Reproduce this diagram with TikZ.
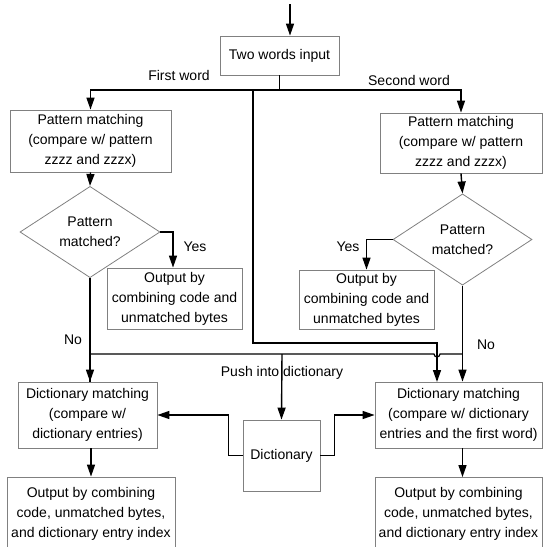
\documentclass[tikz,border=0pt]{standalone}
\usepackage{fontspec}
\setmainfont{Liberation Sans}
\usetikzlibrary{arrows.meta,shapes.geometric}
\begin{document}
\begin{tikzpicture}[x=1pt,y=-1pt,
  font=\fontsize{14}{20}\selectfont,
  box/.style={draw=black!50,line width=0.8pt,rectangle,align=center,inner sep=0pt},
  decide/.style={draw=black!50,line width=0.8pt,diamond,align=center,inner sep=0pt},
  flow/.style={draw=black,line width=1.4pt},
  arr/.style={flow,-{Triangle[length=12pt,width=8pt]}},
  lbl/.style={inner sep=0pt}]
\useasboundingbox (0,0) rectangle (543,547);
\begin{scope}
\clip (0,0) rectangle (543,547);

% boxes
\node[box,minimum width=119,minimum height=39] (input) at (279.5,55.5) {Two words input};
\node[box,minimum width=161,minimum height=62] (pL) at (90.5,141) {Pattern matching\\(compare w/ pattern\\zzzz and zzzx)};
\node[box,minimum width=162,minimum height=60] (pR) at (461,143) {Pattern matching\\(compare w/ pattern\\zzzz and zzzx)};
\node[decide,minimum width=140,minimum height=69] (dL) at (90,232) {Pattern\\matched?};
\node[decide,minimum width=139,minimum height=69] (dR) at (462.5,239.5) {Pattern\\matched?};
\node[box,minimum width=135,minimum height=61] (oL) at (174.5,298.5) {Output by\\combining code and\\unmatched bytes};
\node[box,minimum width=135,minimum height=59] (oR) at (366.5,299.5) {Output by\\combining code and\\unmatched bytes};
\node[box,minimum width=139,minimum height=66] (mL) at (87.5,415) {Dictionary matching\\(compare w/\\dictionary entries)};
\node[box,minimum width=167,minimum height=66] (mR) at (458.5,415) {Dictionary matching\\(compare w/ dictionary\\entries and the first word)};
\node[box,minimum width=77,minimum height=71] (dict) at (281.5,455.5) {Dictionary};
\node[box,minimum width=168,minimum height=73] (qL) at (91,513.5) {Output by combining\\code, unmatched bytes,\\and dictionary entry index};
\node[box,minimum width=167,minimum height=73] (qR) at (458.5,514) {Output by combining\\code, unmatched bytes,\\and dictionary entry index};

% labels
\node[lbl] (lfirst) at (179,75) {First word};
\node[lbl] (lsecond) at (409,80) {Second word};
\node[lbl] (lyesL) at (195,247) {Yes};
\node[lbl] (lyesR) at (348,247) {Yes};
\node[lbl] (lnoL) at (73,340) {No};
\node[lbl] (lnoR) at (486,345) {No};
\node[lbl] (lpush) at (282,373) {Push into dictionary};

% junction points
\coordinate (src) at (290,4);
\coordinate (bus) at (279.5,90);
\coordinate (midtop) at (253,90);
\coordinate (midturn) at (253,343);
\coordinate (midend) at (437,382);
\coordinate (noL) at (91,354);
\coordinate (push) at (282,354);

% input and the two words
\draw[arr] (src) -- (src |- input.north);
\draw[arr] (input.south) -- (bus) -| (pL.north);
\draw[arr] (bus) -| (pR.north);

% pattern matching paths
\draw[arr] (pL.south) -- (dL.north);
\draw[arr] (pR.south) -- (dR.north);
\draw[arr] (dL.east) -| ([xshift=-1.5pt]oL.north);
\draw[arr] (dR.west) -| (oR.north);

% first word passed straight to the second dictionary matcher
\draw[arr] (midtop) -- (midturn) -| (midend);

% the two "No" paths joined, hopping over the first-word line
\draw[flow] (dL.south) -- (dL.south |- mL.north);
\draw[flow,line width=1.2pt] (noL) -- (434,354) arc[start angle=180,end angle=0,radius=3] -- (dR.south |- noL);
\draw[arr] (dL.south |- noL) -- (dL.south |- mL.north);
\draw[arr] (dR.south) -- (dR.south |- mR.north);
\draw[arr] (push) -- (dict.north);

% dictionary lookups
\draw[arr] (dict.west) -- ++(-14,0) |- (mL.east);
\draw[arr] (dict.east) -- ++(14,0) |- (mR.west);

% final outputs
\draw[arr] (qL.north |- mL.south) -- (qL.north);
\draw[arr] (dR.south |- mR.south) -- (dR.south |- qR.north);
\end{scope}
\end{tikzpicture}
\end{document}
